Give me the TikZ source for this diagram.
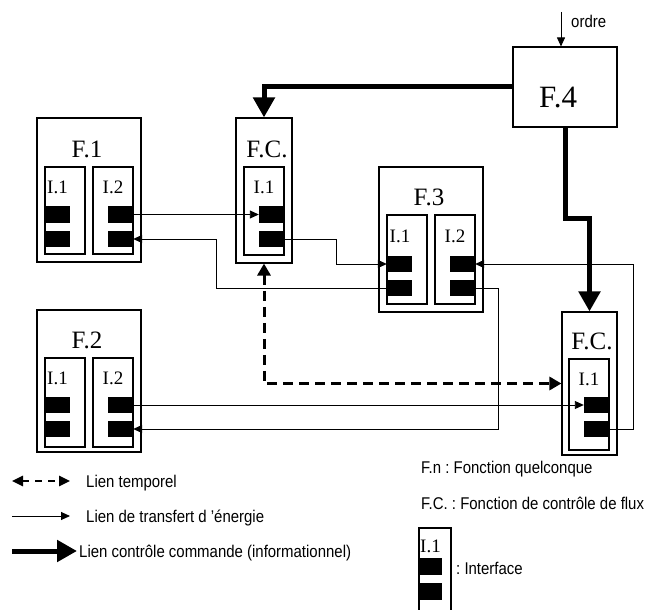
\documentclass[tikz,border=0pt]{standalone}
\usepackage{fontspec}
\setmainfont{Liberation Serif}
\setsansfont[FakeStretch=0.88]{Liberation Sans}
\usetikzlibrary{arrows.meta}
\frenchspacing
\tikzset{
  fbox/.style={draw, line width=1.1pt, inner sep=0pt},
  ibox/.style={draw, line width=1.1pt, inner sep=0pt, minimum width=40pt},
  blk/.style={fill=black, inner sep=0pt, minimum width=25pt, minimum height=16.5pt},
  ttl/.style={anchor=base, inner sep=0pt, font=\fontsize{25}{25}\selectfont},
  bigttl/.style={anchor=base, inner sep=0pt, font=\fontsize{31}{31}\selectfont},
  lbl/.style={anchor=base, inner sep=0pt, font=\fontsize{19}{19}\selectfont},
  energy/.style={line width=0.9pt, -{Triangle[length=9pt,width=8pt]}},
  ctrl/.style={line width=5pt, -{Triangle[length=20pt,width=21pt]}},
  temporal/.style={line width=3pt, dash pattern=on 10pt off 6pt,
    {Triangle[length=12pt,width=13pt]}-{Triangle[length=12pt,width=13pt]}},
  lgtemporal/.style={line width=2.5pt, dash pattern=on 7pt off 6pt,
    {Triangle[length=11pt,width=10pt]}-{Triangle[length=11pt,width=10pt]}},
  lgtext/.style={anchor=base west, inner sep=0pt, font=\sffamily\fontsize{17}{17}\selectfont},
}
\begin{document}
\begin{tikzpicture}[x=1pt, y=-1pt]
\useasboundingbox (0,0) rectangle (651,610);

% ---------- F.1 ----------
\node[fbox, minimum width=104pt, minimum height=144pt] (f1) at (89,190) {};
\node[ttl] (f1t) at (87,157) {F.1};
\node[ibox, minimum height=87pt] (f1i1) at (65,210.5) {};
\node[ibox, minimum height=87pt] (f1i2) at (113,210.5) {};
\node[lbl] (f1l1) at (57.5,193) {I.1};
\node[lbl] (f1l2) at (113,193) {I.2};
\node[blk] (f1b1) at (57.5,214.5) {};
\node[blk] (f1b2) at (57.5,239) {};
\node[blk] (f1b3) at (120.5,214.5) {};
\node[blk] (f1b4) at (120.5,239) {};

% ---------- F.C. (top) ----------
\node[fbox, minimum width=56pt, minimum height=145pt] (fc1) at (264,190.5) {};
\node[ttl] (fc1t) at (267,157) {F.C.};
\node[ibox, minimum height=88pt] (fc1i) at (264,211) {};
\node[lbl] (fc1l) at (264,193) {I.1};
\node[blk] (fc1b1) at (271.5,214.5) {};
\node[blk] (fc1b2) at (271.5,239) {};

% ---------- F.3 ----------
\node[fbox, minimum width=104pt, minimum height=145pt] (f3) at (431,239.5) {};
\node[ttl] (f3t) at (429,205) {F.3};
\node[ibox, minimum height=89pt] (f3i1) at (407,259.5) {};
\node[ibox, minimum height=89pt] (f3i2) at (455,259.5) {};
\node[lbl] (f3l1) at (400,242) {I.1};
\node[lbl] (f3l2) at (455,242) {I.2};
\node[blk] (f3b1) at (399.5,264) {};
\node[blk] (f3b2) at (399.5,288) {};
\node[blk] (f3b3) at (462.5,264) {};
\node[blk] (f3b4) at (462.5,288) {};

% ---------- F.2 ----------
\node[fbox, minimum width=104pt, minimum height=142pt] (f2) at (89,381) {};
\node[ttl] (f2t) at (87,348) {F.2};
\node[ibox, minimum height=89pt] (f2i1) at (65,402.5) {};
\node[ibox, minimum height=89pt] (f2i2) at (113,402.5) {};
\node[lbl] (f2l1) at (57.5,384) {I.1};
\node[lbl] (f2l2) at (113,384) {I.2};
\node[blk] (f2b1) at (57.5,405) {};
\node[blk] (f2b2) at (57.5,429) {};
\node[blk] (f2b3) at (120.5,405) {};
\node[blk] (f2b4) at (120.5,429) {};

% ---------- F.C. (bottom) ----------
\node[fbox, minimum width=55pt, minimum height=143pt] (fc2) at (589.5,383.5) {};
\node[ttl] (fc2t) at (592,349) {F.C.};
\node[ibox, minimum height=91pt] (fc2i) at (589,404.5) {};
\node[lbl] (fc2l) at (589,385) {I.1};
\node[blk] (fc2b1) at (596.5,405) {};
\node[blk] (fc2b2) at (596.5,429) {};

% ---------- F.4 ----------
\node[fbox, minimum width=104pt, minimum height=80pt] (f4) at (565,87) {};
\node[bigttl] (f4t) at (558,107) {F.4};
\coordinate (ordre) at (561,12);
\draw[energy] (ordre) -- (ordre |- f4.north);
\node[lgtext] (ordret) at (571,28) {ordre};

% ---------- energy links ----------
\draw[energy] (f1b3.east) -- (fc1b1.west);
\draw[energy] (fc1b2.east) -- ++(52,0) |- (f3b1.west);
\draw[energy] (f3b2.west) -- ++(-170,0) |- (f1b4.east);
\draw[energy] (fc2b2.east) -- ++(24,0) |- (f3b3.east);
\draw[energy] (f3b4.east) -- ++(23,0) |- (f2b4.east);
\draw[energy] (f2b3.east) -- (fc2b1.west);

% ---------- temporal link ----------
\draw[temporal] (fc1.south) |- (fc2.west);

% ---------- control links ----------
\draw[ctrl] (f4.west) -| (fc1.north);
\draw[ctrl] (f4.south) -- ++(0,91) -| (fc2.north);

% ---------- legend ----------
\coordinate (lg1a) at (12,481);
\coordinate (lg1b) at (70,481);
\draw[lgtemporal] (lg1a) -- (lg1b);
\node[lgtext] (lg1t) at (86,487) {Lien temporel};

\coordinate (lg2a) at (12,516);
\coordinate (lg2b) at (70,516);
\draw[energy] (lg2a) -- (lg2b);
\node[lgtext] (lg2t) at (86,522) {Lien de transfert d 'énergie};

\coordinate (lg3a) at (12,551);
\coordinate (lg3b) at (77,551);
\draw[ctrl] (lg3a) -- (lg3b);
\node[lgtext] (lg3t) at (79,557) {Lien contrôle commande (informationnel)};

\node[lgtext] (lg4t) at (421,473) {F.n : Fonction quelconque};
\node[lgtext] (lg5t) at (421,509) {F.C. : Fonction de contrôle de flux};

\node[ibox, minimum width=32pt, minimum height=86pt] (lgi) at (435,571) {};
\node[lbl, anchor=base west] (lgil) at (420,552) {I.1};
\node[blk, minimum width=23pt, minimum height=17pt] (lgb1) at (430.5,566.5) {};
\node[blk, minimum width=23pt, minimum height=17pt] (lgb2) at (430.5,591.5) {};
\node[lgtext] (lgit) at (456,574) {: Interface};
\end{tikzpicture}
\end{document}
